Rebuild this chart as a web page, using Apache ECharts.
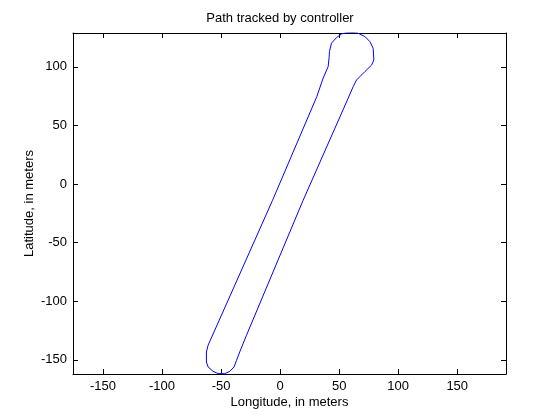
<!DOCTYPE html>
<html>
<head>
<meta charset="utf-8">
<script src="https://cdn.jsdelivr.net/npm/echarts@6/dist/echarts.min.js"></script>
<style>html,body{margin:0;padding:0;background:#fff}#c{width:560px;height:420px}</style>
</head>
<body>
<div id="c"></div>
<script>
const lon = [-46.9, -52.5, -56.8, -61.0, -62.4, -62.4, -61.0, -6.4, 31.1, 36.4, 40.7, 41.5, 41.8, 43.5, 47.8, 52.0, 56.0, 62.0, 65.6, 71.8, 76.0, 78.8, 79.4, 77.5, 71.8, 64.7, 61.9, 57.6, 19.5, -28.5, -34.2, -36.9, -39.0, -42.6, -46.9];
const lat = [-161.8, -161.8, -159.8, -156.1, -151.9, -143.3, -137.6, -13.9, 74.6, 90.2, 100.2, 108.0, 113.0, 120.1, 124.9, 128.0, 129.0, 129.2, 128.8, 125.8, 121.5, 115.8, 105.8, 101.5, 95.9, 88.7, 83.1, 73.1, -13.9, -129.1, -143.3, -150.4, -156.1, -159.8, -161.8];
const xTicks = [-150, -100, -50, 0, 50, 100, 150];
const yTicks = [-150, -100, -50, 0, 50, 100];
const titleText = 'Path tracked by controller';
const xName = 'Longitude, in meters';
const yName = 'Latitude, in meters';

const pts = lon.map((x, i) => [x, lat[i]]);
const font = 'Liberation Sans, Arial, sans-serif';
const axisBase = (pos, min, max, ticks, show) => ({
  type: 'value', position: pos, min: min, max: max,
  axisLine: { show: true, onZero: false, lineStyle: { color: '#000', width: 1 } },
  axisTick: { show: true, inside: true, length: 5, customValues: ticks, lineStyle: { color: '#000' } },
  axisLabel: { show: show, customValues: ticks, color: '#000', fontSize: 13, fontFamily: font, margin: 6 },
  splitLine: { show: false }
});
const xa0 = axisBase('bottom', -175.4, 191.3, xTicks, true);
xa0.name = xName; xa0.nameLocation = 'middle'; xa0.nameGap = 22; xa0.nameMoveOverlap = false;
xa0.nameTextStyle = { color: '#000', fontSize: 13, fontFamily: font };
const xa1 = axisBase('top', -175.4, 191.3, xTicks, false);
const ya0 = axisBase('left', -162.1, 128.8, yTicks, true);
ya0.name = yName; ya0.nameLocation = 'middle'; ya0.nameGap = 37; ya0.nameRotate = 90; ya0.nameMoveOverlap = false;
ya0.nameTextStyle = { color: '#000', fontSize: 13, fontFamily: font };
const ya1 = axisBase('right', -162.1, 128.8, yTicks, false);

const chart = echarts.init(document.getElementById('c'), null, { renderer: 'canvas' });
chart.setOption({
  animation: false,
  backgroundColor: '#fff',
  title: { text: titleText, left: 'center', top: 7, textStyle: { color: '#000', fontSize: 13, fontWeight: 'normal', fontFamily: font } },
  grid: { left: 73, right: 54, top: 33, bottom: 46, show: false },
  xAxis: [xa0, xa1],
  yAxis: [ya0, ya1],
  series: [{
    type: 'line', data: pts, xAxisIndex: 0, yAxisIndex: 0,
    showSymbol: false, symbol: 'none', clip: true,
    lineStyle: { color: '#0000ff', width: 1 }
  }]
});
</script>
</body>
</html>
